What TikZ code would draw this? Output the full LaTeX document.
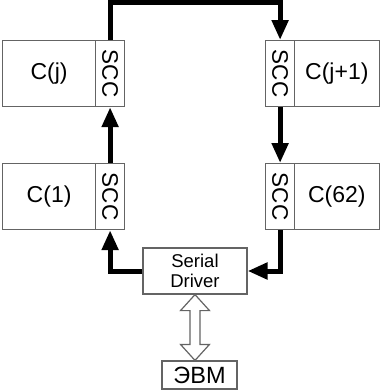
\documentclass[tikz,border=0pt]{standalone}
\usepackage{fontspec}
\setmainfont{Liberation Sans}
\usetikzlibrary{arrows.meta,calc}
\definecolor{edgegray}{RGB}{100,100,100}
\begin{document}
\begin{tikzpicture}[x=1pt,y=-1pt,
  box/.style={draw=edgegray,line width=1.2pt,fill=white,inner sep=0pt},
  cbox/.style={box,minimum width=93pt,minimum height=66pt,anchor=north west,font=\fontsize{23}{25}\selectfont},
  sccbox/.style={box,minimum width=29pt,minimum height=66pt,anchor=north west,font=\fontsize{22.5}{24}\selectfont},
  flow/.style={line width=5pt,line join=miter,-{Triangle[length=20pt,width=16pt]}},
  dblarrow/.style={draw=edgegray,line width=1.2pt,fill=white,line join=miter}
]
\useasboundingbox (0,0) rectangle (380,391);
% left column
\node[cbox] (cj) at (2,40) {C(j)};
\node[sccbox] (sj) at (95,40) {\rotatebox{-90}{SCC}};
\node[cbox] (c1) at (2,163) {C(1)};
\node[sccbox] (s1) at (95,163) {\rotatebox{-90}{SCC}};
% right column
\node[sccbox] (sj1) at (265,40) {\rotatebox{-90}{SCC}};
\node[cbox,minimum width=84.5pt] (cj1) at (294,40) {C(j+1)};
\node[sccbox] (s62) at (265,163) {\rotatebox{-90}{SCC}};
\node[cbox,minimum width=84.5pt] (c62) at (294,163) {C(62)};
% driver and computer
\node[box,minimum width=104pt,minimum height=46pt,align=center,font=\fontsize{18.5}{20}\selectfont] (sd) at (195,271) {Serial\\Driver};
\node[box,minimum width=75pt,minimum height=28pt,font=\fontsize{23.5}{25}\selectfont] (evm) at (199.5,375) {ЭВМ};
% ring connections
\coordinate (topc) at (195,2.5);
\draw[flow] (s1.north) -- (sj.south);
\draw[flow] (sj.north) |- (topc) -| (sj1.north);
\draw[flow] (sj1.south) -- (s62.north);
\draw[flow] (s62.south) |- (sd.east);
\draw[flow] (sd.west) -| (s1.south);
% double arrow
\draw[dblarrow] let \p1=(sd.south), \p2=(evm.north) in
  (\x1,\y1) -- (\x1+14.5pt,\y1-16pt) -- (\x1+5pt,\y1-16pt) -- (\x1+5pt,\y2+16pt)
  -- (\x1+14.5pt,\y2+16pt) -- (\x1,\y2) -- (\x1-14.5pt,\y2+16pt) -- (\x1-5pt,\y2+16pt)
  -- (\x1-5pt,\y1-16pt) -- (\x1-14.5pt,\y1-16pt) -- cycle;
\end{tikzpicture}
\end{document}
